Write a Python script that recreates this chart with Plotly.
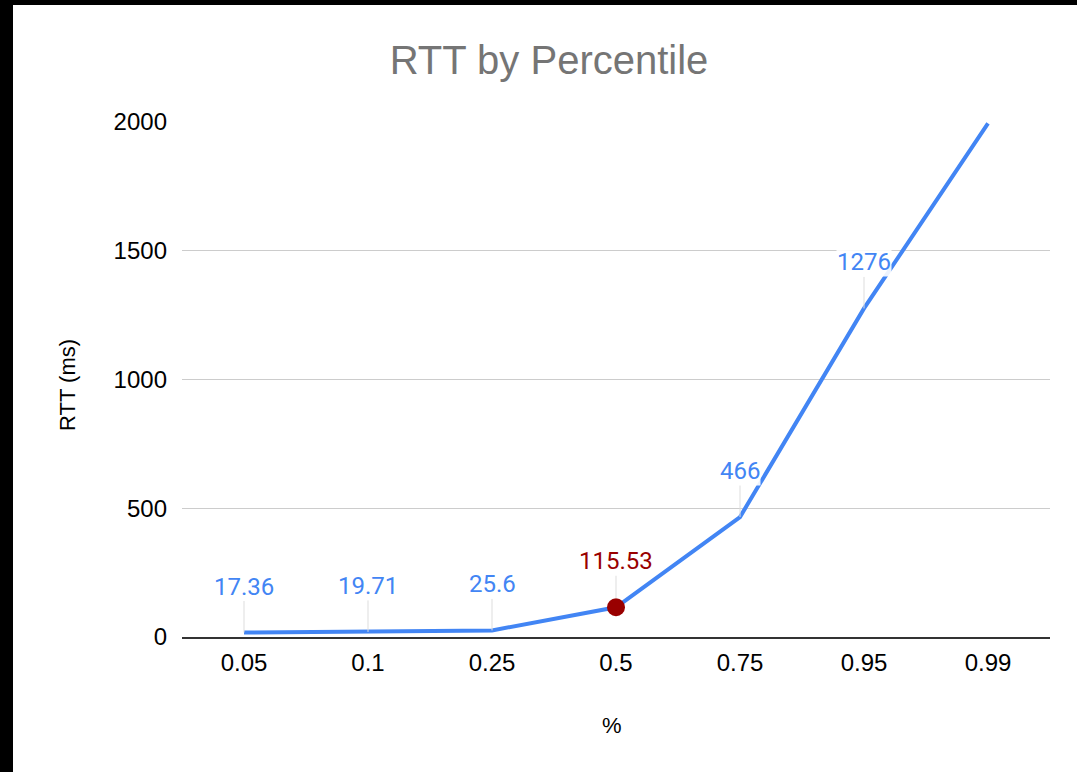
import plotly.graph_objects as go

percentiles = ["0.05", "0.1", "0.25", "0.5", "0.75", "0.95", "0.99"]
rtt_ms = [17.36, 19.71, 25.6, 115.53, 466, 1276, 1995]
label_texts = ["17.36", "19.71", "25.6", "115.53", "466", "1276", ""]
highlight_index = 3
y_ticks = [0, 500, 1000, 1500, 2000]

BLUE = "#4285F4"
RED = "#990000"

W, H = 1077, 772
L, R, T, B = 182, 27, 122, 135
pw, ph = W - L - R, H - T - B

def px_x(p):
    return (p - L) / pw

def px_y(p):
    return (H - B - p) / ph

fig = go.Figure()
fig.add_trace(go.Scatter(
    x=percentiles, y=rtt_ms, mode="lines",
    line=dict(color=BLUE, width=4), hoverinfo="skip", showlegend=False,
))
fig.add_trace(go.Scatter(
    x=[percentiles[highlight_index]], y=[rtt_ms[highlight_index]], mode="markers",
    marker=dict(color=RED, size=18), hoverinfo="skip", showlegend=False,
))

annotations = []
for i, (v, t) in enumerate(zip(rtt_ms, label_texts)):
    if not t:
        continue
    hl = i == highlight_index
    annotations.append(dict(
        x=i, y=v, xref="x", yref="y", text=t, showarrow=True,
        arrowhead=0, arrowwidth=1, arrowcolor="#dddddd", ax=0, ay=-46,
        standoff=9 if hl else 0,
        font=dict(family="Roboto", size=24, color=RED if hl else BLUE),
        bgcolor="rgba(255,255,255,0.9)", borderpad=0,
    ))

annotations.append(dict(
    x=px_x(612), y=px_y(725), xref="paper", yref="paper", text="%",
    showarrow=False, font=dict(family="Liberation Sans", size=22, color="#000000"),
    xanchor="center", yanchor="middle",
))
annotations.append(dict(
    x=px_x(67), y=px_y(385), xref="paper", yref="paper", text="RTT (ms)",
    textangle=-90, showarrow=False,
    font=dict(family="Liberation Sans", size=22, color="#000000"),
    xanchor="center", yanchor="middle",
))

shapes = [
    dict(type="rect", xref="paper", yref="paper", layer="below",
         x0=px_x(-20), x1=px_x(13), y0=px_y(H + 20), y1=px_y(-20),
         fillcolor="black", line=dict(width=0)),
    dict(type="rect", xref="paper", yref="paper", layer="below",
         x0=px_x(-20), x1=px_x(W + 20), y0=px_y(5), y1=px_y(-20),
         fillcolor="black", line=dict(width=0)),
]

fig.update_layout(
    width=W, height=H,
    margin=dict(l=L, r=R, t=T, b=B, pad=0),
    paper_bgcolor="white", plot_bgcolor="white",
    title=dict(
        text="RTT by Percentile", x=549 / W, y=1 - 60 / H,
        xref="container", yref="container", xanchor="center", yanchor="middle",
        font=dict(family="Liberation Sans", size=40, color="#757575"),
    ),
    annotations=annotations,
    shapes=shapes,
    showlegend=False,
)
fig.update_xaxes(
    type="category", range=[-0.5, len(percentiles) - 0.5],
    showgrid=False, showline=True, linecolor="#333333", linewidth=2,
    ticks="", ticklabelstandoff=3, zeroline=False,
    tickfont=dict(family="Liberation Sans", size=24, color="#000000"),
)
fig.update_yaxes(
    range=[0, 2000], tickvals=y_ticks, showgrid=True, gridcolor="#cccccc", gridwidth=1,
    zeroline=False, showline=False, ticks="", ticklabelstandoff=14,
    tickfont=dict(family="Liberation Sans", size=24, color="#000000"),
)

fig.write_html(
    "out.html", config={"displayModeBar": False},
    post_script=(
        "document.body.style.margin='0';"
        "document.body.style.overflow='hidden';"
        "document.documentElement.style.overflow='hidden';"
        "document.body.style.background='white';"
    ),
)
